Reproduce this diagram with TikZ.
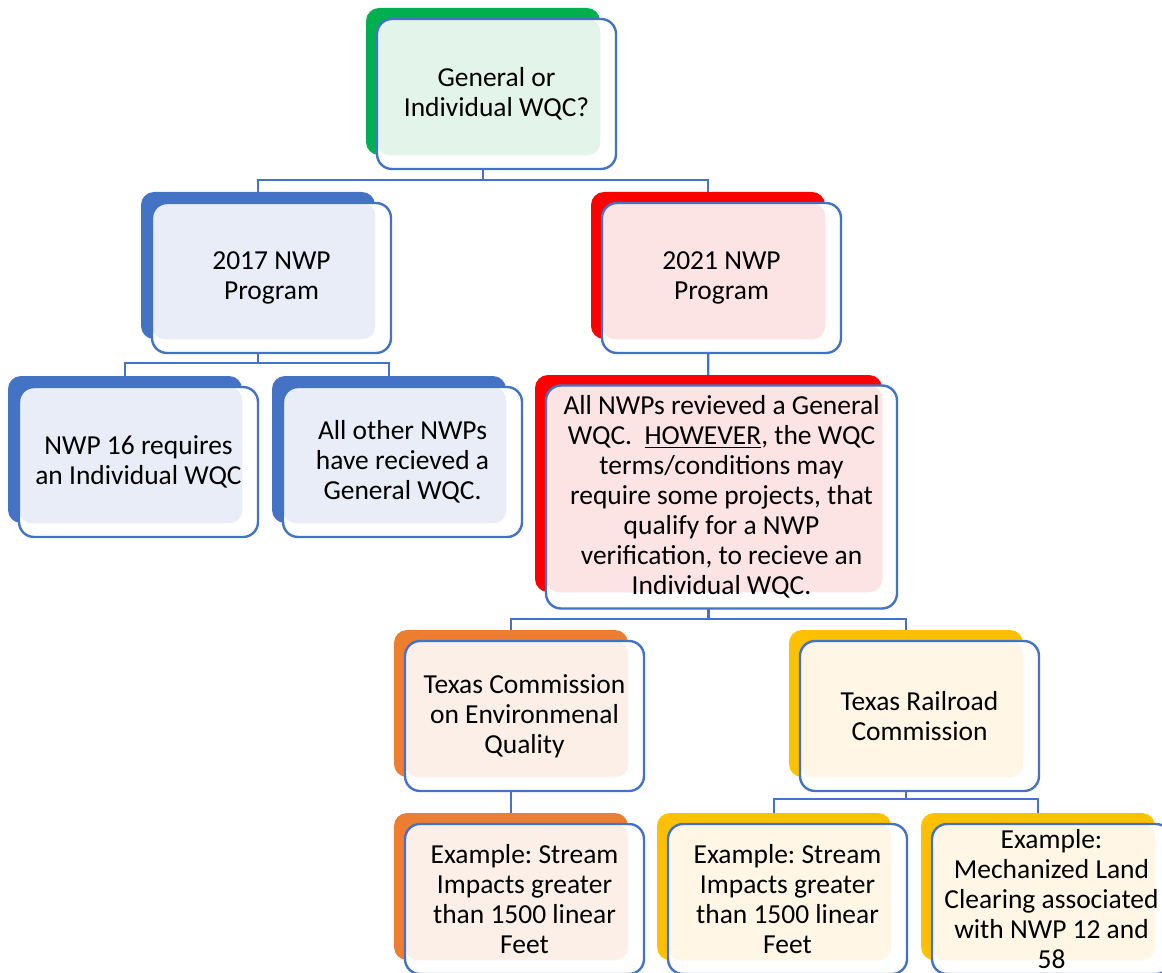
\documentclass[tikz,border=0pt]{standalone}
\usepackage{fontspec}
\setmainfont{Carlito}
\usepackage{tikz}
\usetikzlibrary{backgrounds}

\newdimen\px \px=0.75pt
\newcommand{\boxfont}{\fontsize{20.6}{22.5}\selectfont\frenchspacing}
\definecolor{edge}{HTML}{4472C4}
\definecolor{accgreen}{HTML}{00B050}
\definecolor{litegreen}{HTML}{E3F4EA}
\definecolor{accblue}{HTML}{4472C4}
\definecolor{liteblue}{HTML}{E9EDF7}
\definecolor{accred}{HTML}{FF0000}
\definecolor{litered}{HTML}{FCE4E4}
\definecolor{accorange}{HTML}{ED7D31}
\definecolor{liteorange}{HTML}{FBEFE7}
\definecolor{accyellow}{HTML}{FFC000}
\definecolor{liteyellow}{HTML}{FFF6E5}

\begin{document}
\begin{tikzpicture}[x=0.75pt, y=-0.75pt,
    back/.style={fill=#1, rounded corners=13\px, minimum width=234\px, minimum height=147\px, inner sep=0},
    front/.style 2 args={draw=edge, line width=1.8pt, fill=white, rounded corners=15\px,
        minimum width=239\px, minimum height=150\px, inner sep=0, align=center, font=\boxfont,
        path picture={\fill[#1, rounded corners=13\px] (path picture bounding box.north west) rectangle (#2.south east);}},
    link/.style={draw=edge, line width=1.8pt}]
    \useasboundingbox (0,0) rectangle (1162,973);

    % Nodes
    \node[back=accgreen] (b1) at (483,81.5) {};
    \node[front={litegreen}{b1}] (f1) at ([shift={(13.5,12.5)}]b1) {General or\\Individual WQC?};

    \node[back=accblue] (b2) at (258,265.5) {};
    \node[front={liteblue}{b2}] (f2) at ([shift={(13.5,12.5)}]b2) {2017 NWP\\Program};

    \node[back=accred] (b3) at (708,265.5) {};
    \node[front={litered}{b3}] (f3) at ([shift={(13.5,12.5)}]b3) {2021 NWP\\Program};

    \node[back=accblue] (b4) at (125,449.5) {};
    \node[front={liteblue}{b4}] (f4) at ([shift={(13.5,12.5)}]b4) {NWP 16 requires\\an Individual WQC};

    \node[back=accblue] (b5) at (389,449.5) {};
    \node[front={liteblue}{b5}] (f5) at ([shift={(13.5,12.5)}]b5) {All other NWPs\\have recieved a\\General WQC.};

    \node[back=accred, minimum width=347\px, minimum height=217\px] (b6) at (708.5,483.5) {};
    \node[front={litered}{b6}, minimum width=351\px, minimum height=223\px] (f6) at (721.5,497)
        {All NWPs revieved a General\\WQC.\ \ \underline{HOWEVER}, the WQC\\terms/conditions may\\require some projects, that\\qualify for a NWP\\verification, to recieve an\\Individual WQC.};

    \node[back=accorange] (b7) at (511,703.5) {};
    \node[front={liteorange}{b7}] (f7) at ([shift={(13.5,12.5)}]b7) {Texas Commission\\on Environmenal\\Quality};

    \node[back=accyellow] (b8) at (906,703.5) {};
    \node[front={liteyellow}{b8}] (f8) at ([shift={(13.5,12.5)}]b8) {Texas Railroad\\Commission};

    \node[back=accorange] (b9) at (511,886.5) {};
    \node[front={liteorange}{b9}] (f9) at ([shift={(13.5,12.5)}]b9) {Example: Stream\\Impacts greater\\than 1500 linear\\Feet};

    \node[back=accyellow] (b10) at (774,886.5) {};
    \node[front={liteyellow}{b10}] (f10) at ([shift={(13.5,12.5)}]b10) {Example: Stream\\Impacts greater\\than 1500 linear\\Feet};

    \node[back=accyellow] (b11) at (1038,886.5) {};
    \node[front={liteyellow}{b11}] (f11) at ([shift={(13.5,12.5)}]b11) {Example:\\Mechanized Land\\Clearing associated\\with NWP 12 and\\58};

    % Lines
    \begin{scope}[on background layer]
        \coordinate (j1) at (483,180);
        \coordinate (j2) at (258,363);
        \coordinate (j3) at (708.5,619);
        \coordinate (j4) at (906,799);
        \draw[link] (b1.center) -- (j1);
        \draw[link] (b2.center) |- (j1) -| (b3.center);
        \draw[link] (b2.center) -- (j2);
        \draw[link] (b4.center) |- (j2) -| (b5.center);
        \draw[link] (b3.center) -- (b6.center);
        \draw[link] (b6.center) -- (j3);
        \draw[link] (b7.center) |- (j3) -| (b8.center);
        \draw[link] (b7.center) -- (b9.center);
        \draw[link] (b8.center) -- (j4);
        \draw[link] (b10.center) |- (j4) -| (b11.center);
    \end{scope}
\end{tikzpicture}
\end{document}
